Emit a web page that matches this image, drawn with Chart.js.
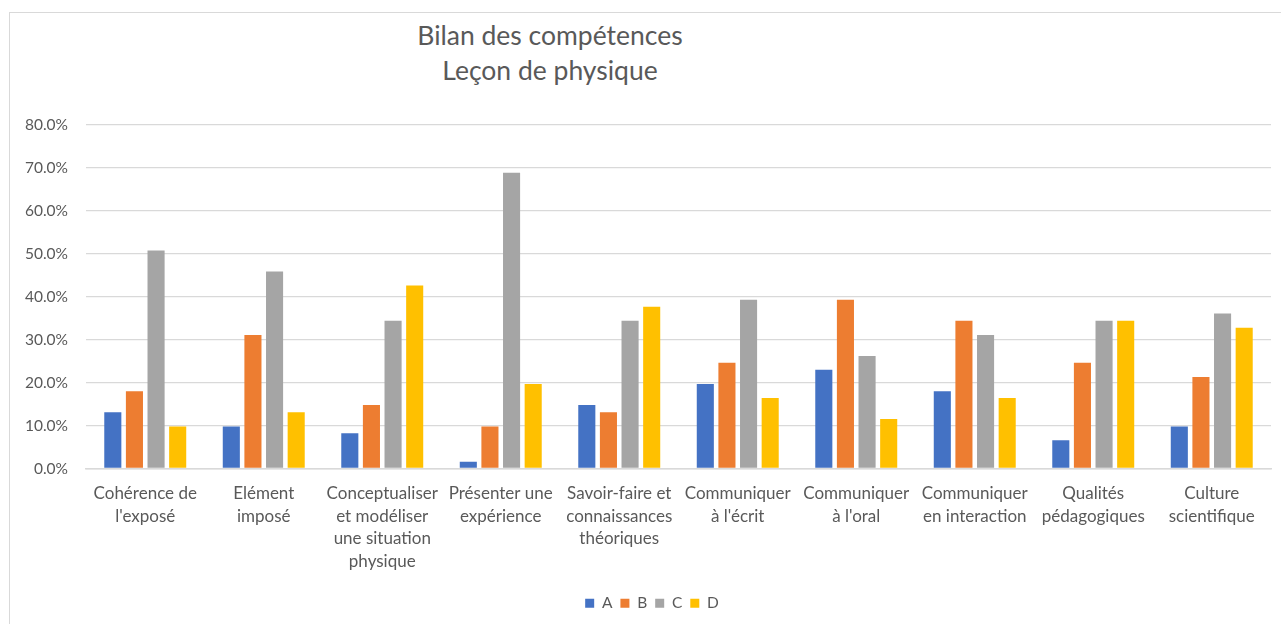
<!DOCTYPE html>
<html>
<head>
<meta charset="utf-8">
<script src="https://cdn.jsdelivr.net/npm/chart.js@4/dist/chart.umd.min.js"></script>
<style>
  html, body { margin:0; padding:0; background:#fff; overflow:hidden; width:1281px; height:624px; }
  #frame { position:absolute; left:9px; top:12px; width:1300px; height:700px; border:1px solid #d9d9d9; box-sizing:border-box; }
  #wrap { position:absolute; left:9px; top:12px; width:1286px; height:612px; }
  .t { position:absolute; width:400px; text-align:center; font-family:Lato, "Open Sans", sans-serif; font-size:26.5px; color:#595959; left:350px; line-height:32px; }
</style>
</head>
<body>
<div id="frame"></div>
<div class="t" style="top:19px;">Bilan des compétences</div>
<div class="t" style="top:54px;">Leçon de physique</div>
<div id="wrap"><canvas id="c" width="1286" height="612"></canvas></div>
<script>
const categories = [
  ["Cohérence de","l'exposé"],
  ["Elément","imposé"],
  ["Conceptualiser","et modéliser","une situation","physique"],
  ["Présenter une","expérience"],
  ["Savoir-faire et","connaissances","théoriques"],
  ["Communiquer","à l'écrit"],
  ["Communiquer","à l'oral"],
  ["Communiquer","en interaction"],
  ["Qualités","pédagogiques"],
  ["Culture","scientifique"]
];
const seriesA = [13.1, 9.8, 8.2, 1.6, 14.8, 19.7, 23.0, 18.0, 6.6, 9.8];
const seriesB = [18.0, 31.1, 14.8, 9.8, 13.1, 24.6, 39.3, 34.4, 24.6, 21.3];
const seriesC = [50.8, 45.9, 34.4, 68.9, 34.4, 39.3, 26.2, 31.1, 34.4, 36.1];
const seriesD = [9.8, 13.1, 42.6, 19.7, 37.7, 16.4, 11.5, 16.4, 34.4, 32.8];
const seriesNames = ["A","B","C","D"];
const yTicks = [0,10,20,30,40,50,60,70,80];

const colors = ["#4472C4","#ED7D31","#A5A5A5","#FFC000"];
const fam = "Lato, 'Open Sans', sans-serif";

const shiftLegend = {
  id: 'shiftLegend',
  afterLayout(chart) {
    const l = chart.legend;
    if (!l) return;
    l.left += 12; l.right += 12;
    l.top -= 3; l.bottom -= 3;
  }
};

new Chart(document.getElementById('c'), {
  type: 'bar',
  data: {
    labels: categories,
    datasets: [seriesA, seriesB, seriesC, seriesD].map((d, i) => ({
      label: seriesNames[i],
      data: d,
      backgroundColor: colors[i],
      borderWidth: 0,
      categoryPercentage: 0.73,
      barPercentage: 0.79
    }))
  },
  plugins: [shiftLegend],
  options: {
    responsive: false,
    animation: false,
    layout: { padding: { top: 113, left: 0, right: 24, bottom: 0 } },
    plugins: {
      title: { display: false },
      tooltip: { enabled: false },
      legend: {
        position: 'bottom',
        labels: { boxWidth: 9, boxHeight: 9, padding: 8, color: '#595959', font: { family: fam, size: 15.5 } }
      }
    },
    scales: {
      x: {
        grid: { display: false, drawTicks: false },
        border: { color: '#d9d9d9', width: 1.5 },
        ticks: { color: '#595959', font: { family: fam, size: 17, lineHeight: 1.32 }, padding: 14, maxRotation: 0, autoSkip: false },
        afterFit: (s) => { s.height = 122; }
      },
      y: {
        min: 0, max: 80,
        afterBuildTicks: (s) => { s.ticks = yTicks.map(v => ({ value: v })); },
        grid: { color: '#d9d9d9', lineWidth: 1.3, drawTicks: false },
        border: { display: false },
        ticks: { color: '#595959', font: { family: fam, size: 15.5 }, padding: 18, callback: (v) => v.toFixed(1) + '%' },
        afterFit: (s) => { s.width = 77; }
      }
    }
  }
});
</script>
</body>
</html>
